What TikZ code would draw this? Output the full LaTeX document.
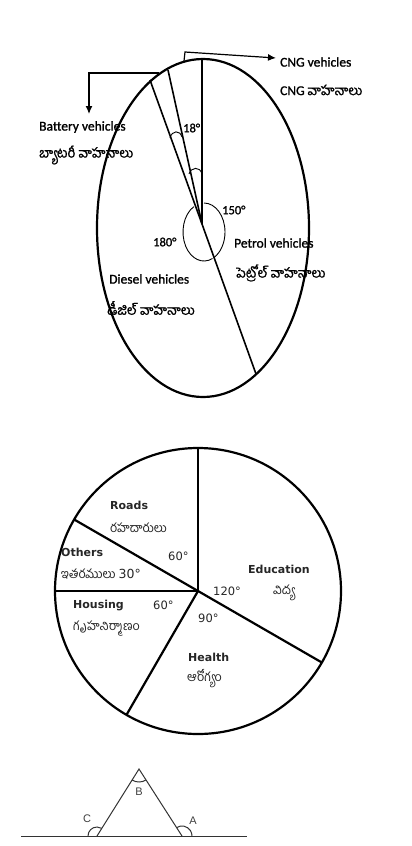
\documentclass[tikz,border=0pt]{standalone}
\usepackage{fontspec}
\setmainfont{Carlito}
\newfontfamily\carb[FakeBold=1.2]{Carlito}
\newfontfamily\tel[Script=Telugu]{Hind Guntur}
\newfontfamily\telb[Script=Telugu,FakeBold=1.2]{Hind Guntur}
\newfontfamily\dvs{DejaVu Sans}
\newfontfamily\lib{Liberation Sans}
\usetikzlibrary{arrows.meta}
\tikzset{
  bigline/.style={line width=2.2pt},
  secline/.style={line width=1.6pt},
  thinarc/.style={line width=0.9pt},
  ptr/.style={line width=1.2pt,-{Latex[length=8pt,width=7pt]}},
  lbl/.style={inner sep=0pt,anchor=west,font=\fontsize{13.5}{15}\selectfont\carb},
  tlbl/.style={inner sep=0pt,anchor=west,font=\fontsize{13.5}{15}\selectfont\telb},
  deg/.style={inner sep=0pt,anchor=west,font=\fontsize{12.5}{14}\selectfont\carb},
  plbl/.style={inner sep=0pt,anchor=west,font=\fontsize{11}{13}\selectfont\dvs\bfseries,text=black!85},
  pdeg/.style={inner sep=0pt,anchor=west,font=\fontsize{11.5}{13}\selectfont\dvs,text=black!85},
  ptel/.style={inner sep=0pt,anchor=west,font=\fontsize{12.5}{14}\selectfont\tel,text=black!85},
  tri/.style={line width=1pt,black!80},
  abc/.style={inner sep=0pt,font=\fontsize{11}{12}\selectfont\lib,text=black!75}
}
\begin{document}
\begin{tikzpicture}[x=1pt,y=-1pt]
\useasboundingbox (0,0) rectangle (412,846);
\fill[white] (0,0) rectangle (412,846);

% ---------- first chart (vehicles) ----------
\coordinate (O1) at (202,224);
\coordinate (E1) at (203,228);
\draw[bigline] (E1) ellipse [x radius=106, y radius=169];
\coordinate (T1) at (202,59);
\coordinate (L1) at (150,80);
\coordinate (L2) at (168,70);
\coordinate (B1) at (256,374);
\draw[secline] (O1) -- (T1);
\draw[secline] (O1) -- (L1);
\draw[secline] (O1) -- (L2);
\draw[secline] (O1) -- (B1);

% angle arcs near centre
\coordinate (Oa) at (204,232);
\draw[thinarc] (Oa) ++(-90:21 and 29) arc[start angle=-90, end angle=62, x radius=21, y radius=29];
\draw[thinarc] (Oa) ++(241:21 and 29) arc[start angle=241, end angle=66, x radius=21, y radius=29];
% small arcs
\coordinate (a1s) at (170,138);
\coordinate (a1e) at (182,137);
\draw[thinarc] (a1s) .. controls (172,130) and (180,130) .. (a1e);
\coordinate (a2s) at (189,174);
\coordinate (a2e) at (202,174);
\draw[thinarc] (a2s) .. controls (191,167) and (200,166) .. (a2e);

% CNG pointer
\coordinate (cngS) at (184,61);
\coordinate (cngK) at (185,52);
\coordinate (cngT) at (276,58);
\draw[ptr] (cngS) -- (cngK) -- (cngT);
\node[lbl] (cng) at (280,62) {CNG vehicles};
\node[lbl] (cngt) at (280,90) {CNG {\telb వాహనాలు}};

% Battery pointer
\coordinate (batS) at (159,73);
\coordinate (batK) at (89,73);
\coordinate (batT) at (89,114);
\draw[ptr] (batS) -- (batK) -- (batT);
\node[lbl] (bat) at (39,127) {Battery vehicles};
\node[tlbl] (batt) at (39,155) {బ్యాటరీ వాహనాలు};

\node[deg] (d18) at (183,128) {18°};
\node[deg] (d150) at (222,210) {150°};
\node[deg] (d180) at (153,242) {180°};
\node[lbl] (pet) at (234,243) {Petrol vehicles};
\node[tlbl] (pett) at (236,273) {పెట్రోల్ వాహనాలు};
\node[lbl] (die) at (109,279) {Diesel vehicles};
\node[tlbl] (diet) at (107,308) {డీజిల్ వాహనాలు};

% ---------- second chart (budget) ----------
\coordinate (O2) at (198,591);
\draw[bigline] (O2) circle[radius=143];
\draw[bigline] (O2) -- ++(-90:143);
\draw[bigline] (O2) -- ++(180:143);
\draw[bigline] (O2) -- ++(210:143);
\draw[bigline] (O2) -- ++(30:143);
\draw[bigline] (O2) -- ++(120:143);

\node[plbl] (roads) at (110,505) {Roads};
\node[ptel] (roadst) at (110,528) {రహదారులు};
\node[pdeg] (r60) at (168,556) {60°};
\node[plbl] (oth) at (61,552) {Others};
\node[ptel] (otht) at (61,574) {ఇతరములు {\dvs 30°}};
\node[plbl] (edu) at (248,569) {Education};
\node[pdeg] (e120) at (213,591) {120°};
\node[ptel] (edut) at (273,593) {విద్య};
\node[plbl] (hou) at (73,606) {Housing};
\node[pdeg] (h60) at (153,605) {60°};
\node[ptel] (hout) at (73,629) {గృహనిర్మాణం};
\node[pdeg] (h90) at (198,618) {90°};
\node[plbl] (hea) at (188,657) {Health};
\node[ptel] (heat) at (187,679) {ఆరోగ్యం};

% ---------- triangle ----------
\coordinate (Bv) at (139,769);
\coordinate (Cv) at (97,836);
\coordinate (Av) at (182,836);
\coordinate (gl) at (21,836.5);
\coordinate (gr) at (247,836.5);
\draw[tri] (gl) -- (gr);
\draw[tri] (Cv) -- (Bv) -- (Av);
\draw[tri] (Bv) ++(57:13) arc[start angle=57, end angle=122, radius=13];
\draw[tri] (Cv) ++(180:9) arc[start angle=180, end angle=302, radius=9];
\draw[tri] (Av) ++(237:10) arc[start angle=237, end angle=360, radius=10];
\node[abc] (lB) at (139,792) {B};
\node[abc] (lC) at (87,819) {C};
\node[abc] (lA) at (193,821) {A};
\end{tikzpicture}
\end{document}
